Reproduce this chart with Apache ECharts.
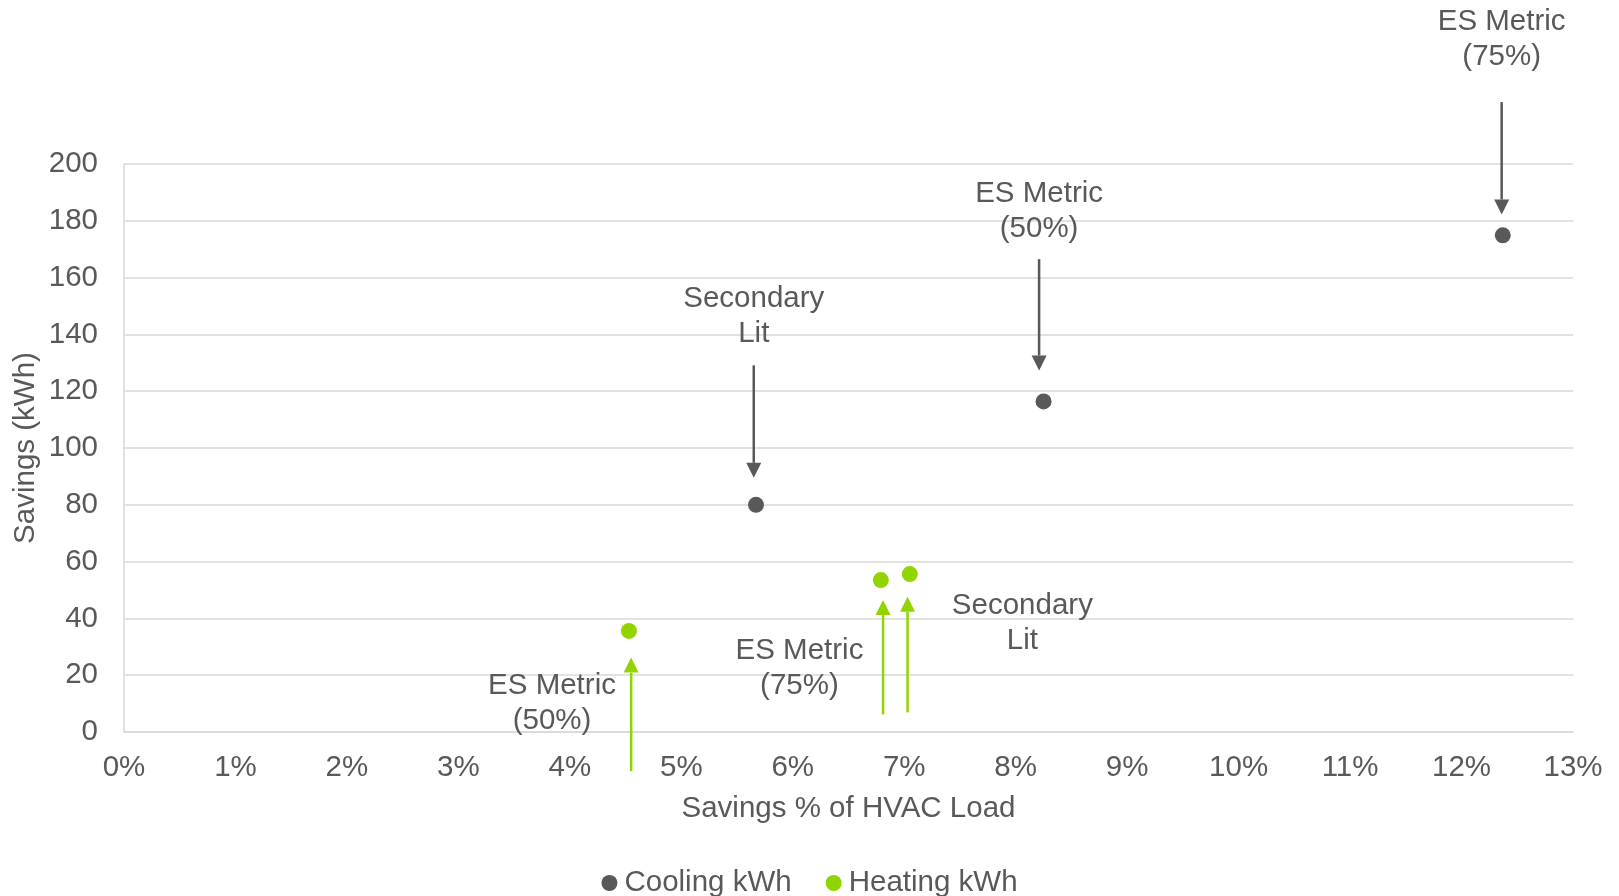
<!DOCTYPE html>
<html>
<head>
<meta charset="utf-8">
<script src="https://cdn.jsdelivr.net/npm/echarts@6/dist/echarts.min.js"></script>
<style>html,body{margin:0;padding:0;background:#fff;}#c{width:1619px;height:896px;}</style>
</head>
<body>
<div id="c"></div>
<script>
// Data (x in % of HVAC load, y in kWh)
const coolingX = [5.67, 8.25, 12.37];
const coolingY = [80.0, 116.4, 174.9];
const heatingX = [4.53, 6.79, 7.05];
const heatingY = [35.6, 53.5, 55.6];
const xTicks = [0,1,2,3,4,5,6,7,8,9,10,11,12,13];
const yTicks = [0,20,40,60,80,100,120,140,160,180,200];

// Annotations (data coordinates)
const annotationLabels = ['Secondary\nLit', 'ES Metric\n(50%)', 'ES Metric\n(75%)', 'ES Metric\n(50%)', 'ES Metric\n(75%)', 'Secondary\nLit'];
const annotationGroup = ['cool', 'cool', 'cool', 'heat', 'heat', 'heat'];
const labelX = [5.65, 8.21, 12.36, 3.84, 6.06, 8.06];
const labelY = [146.5, 183.3, 244.0, 10.2, 22.5, 38.2];
const arrowX = [5.65, 8.21, 12.36, 4.55, 6.81, 7.03];
const arrowFromY = [129.1, 166.5, 221.8, -13.8, 6.2, 6.9];
const arrowToY = [89.5, 127.3, 182.2, 26.2, 46.5, 47.6];

const GRAY = '#595959';
const GREEN = '#92D400';
const FONT = "'Liberation Sans', Arial, sans-serif";
const FS = 29.5;

const annData = annotationLabels.map((t, i) => [labelX[i], labelY[i], arrowX[i], arrowFromY[i], arrowToY[i], i]);

const chart = echarts.init(document.getElementById('c'), null, {renderer: 'canvas'});
chart.setOption({
  animation: false,
  backgroundColor: '#ffffff',
  textStyle: {fontFamily: FONT},
  grid: {left: 124, right: 46, top: 164, bottom: 164, containLabel: false},
  xAxis: {
    type: 'value', min: 0, max: 13, interval: 1,
    name: 'Savings % of HVAC Load', nameLocation: 'middle', nameGap: 62,
    nameMoveOverlap: false,
    nameTextStyle: {color: GRAY, fontSize: FS, fontFamily: FONT},
    axisLine: {show: true, lineStyle: {color: '#D9D9D9', width: 1.5}},
    axisTick: {show: false},
    splitLine: {show: false},
    axisLabel: {color: GRAY, fontSize: FS, fontFamily: FONT, margin: 21,
      formatter: v => xTicks.includes(v) ? v + '%' : ''}
  },
  yAxis: {
    type: 'value', min: 0, max: 200, interval: 20,
    name: 'Savings (kWh)', nameLocation: 'middle', nameGap: 83, nameRotate: 90,
    nameMoveOverlap: false,
    nameTextStyle: {color: GRAY, fontSize: FS, fontFamily: FONT},
    axisLine: {show: true, lineStyle: {color: '#D9D9D9', width: 1.5}},
    axisTick: {show: false},
    splitLine: {show: true, lineStyle: {color: '#D9D9D9', width: 1.5}},
    axisLabel: {color: GRAY, fontSize: FS, fontFamily: FONT, margin: 26,
      formatter: v => yTicks.includes(v) ? String(v) : ''}
  },
  legend: {
    data: ['Cooling kWh', 'Heating kWh'],
    top: 863, left: 'center',
    icon: 'circle', itemWidth: 16, itemHeight: 16, itemGap: 34,
    itemStyle: {opacity: 1},
    textStyle: {color: GRAY, fontSize: FS, fontFamily: FONT, padding: [0, 0, 0, 2]}
  },
  series: [
    {
      name: 'Cooling kWh', type: 'scatter', symbol: 'circle', symbolSize: 16,
      itemStyle: {color: GRAY, opacity: 1},
      data: coolingX.map((x, i) => [x, coolingY[i]])
    },
    {
      name: 'Heating kWh', type: 'scatter', symbol: 'circle', symbolSize: 16,
      itemStyle: {color: GREEN, opacity: 1},
      data: heatingX.map((x, i) => [x, heatingY[i]])
    },
    {
      name: 'annotations', type: 'custom', clip: false, silent: true,
      encode: {x: [0, 2], y: [1, 3, 4]},
      data: annData,
      renderItem: function (params, api) {
        const i = api.value(5);
        const col = annotationGroup[i] === 'cool' ? GRAY : GREEN;
        const txt = api.coord([api.value(0), api.value(1)]);
        const a0 = api.coord([api.value(2), api.value(3)]);
        const a1 = api.coord([api.value(2), api.value(4)]);
        const dir = a1[1] > a0[1] ? 1 : -1;
        const headL = 15, headW = 7.5;
        const base = a1[1] - dir * headL;
        return {
          type: 'group',
          children: [
            {type: 'line', shape: {x1: a0[0], y1: a0[1], x2: a0[0], y2: base},
             style: {stroke: col, lineWidth: 2.5}},
            {type: 'polygon', shape: {points: [[a1[0], a1[1]], [a1[0] - headW, base], [a1[0] + headW, base]]},
             style: {fill: col}},
            {type: 'text', x: txt[0], y: txt[1],
             style: {text: annotationLabels[i], fill: GRAY, fontSize: FS, fontFamily: FONT,
               align: 'center', verticalAlign: 'middle', lineHeight: 35}}
          ]
        };
      }
    }
  ]
});
</script>
</body>
</html>
